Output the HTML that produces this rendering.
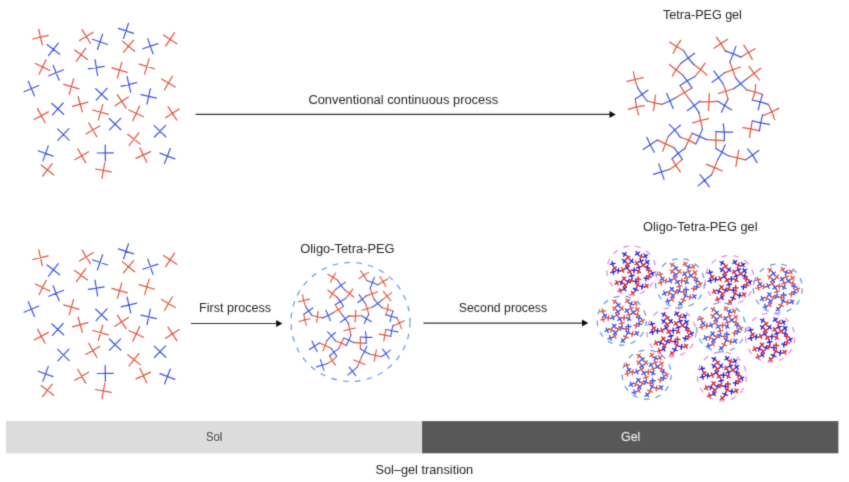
<!DOCTYPE html>
<html lang="en"><head><meta charset="utf-8"><title>Sol-gel transition</title>
<style>
html,body{margin:0;padding:0;background:#fff}
svg{display:block}
text{font-family:"Liberation Sans",sans-serif;font-size:13.7px;fill:#262626}
.w{fill:#ececec}
.s{font-size:13.2px}
</style></head><body>
<svg width="849" height="482" viewBox="0 0 849 482">
<rect width="849" height="482" fill="#fff"/>
<defs>
<g id="sol" fill="none" stroke-width="1.2" stroke-linecap="round">
<path stroke="#e0533d" d="M42.3 44.6L38.7 29M32.7 38.6L48.3 35M90.5 42.8L82.1 29.2M79.5 40.2L93.1 31.8M76.4 60.8L85.8 47.8M74.6 49.6L87.6 59M39.1 73.8L46.1 59.4M35.4 63.1L49.8 70.1M69.2 93.9L73.6 78.5M63.7 84L79.1 88.4M82.3 111.5L78.1 96.1M72.5 105.9L87.9 101.7M123.4 51.9L133.6 39.7M122.4 40.7L134.6 50.9M165.7 45.7L174.5 32.3M163.4 34.6L176.8 43.4M117.4 77.4L121.8 62M111.9 67.5L127.3 71.9M144.6 73.7L149.2 58.3M139.2 63.7L154.6 68.3M164.4 89.6L172.4 75.8M161.5 78.7L175.3 86.7M126.1 107.7L117.3 94.3M115 105.4L128.4 96.6M98.4 119.5L102.8 104.1M92.9 109.6L108.3 114M132.8 120.3L139.6 105.7M128.9 109.6L143.5 116.4M96.8 136.4L88.8 122.6M85.9 133.5L99.7 125.5M129.1 145.1L138.9 132.5M127.7 133.9L140.3 143.7M45.1 122.4L37.5 108.2M34.2 119.1L48.4 111.5M85.7 162.2L77.7 148.4M74.8 159.3L88.6 151.3M42.5 175.8L52.3 163.2M41.1 164.6L53.7 174.4M102 177.9L104.8 162.1M95.5 168.6L111.3 171.4M176.8 119.7L168 106.3M165.7 117.4L179.1 108.6M146.7 161.9L139.9 147.3M136 158L150.6 151.2"/>
<path stroke="#3d55e0" d="M48.5 55.3L58.3 42.7M47.1 44.1L59.7 53.9M97.4 49.1L102.6 33.9M92.4 38.9L107.6 44.1M59.2 79.8L53.2 65M48.8 75.4L63.6 69.4M97.6 75.1L95 59.3M88.4 68.5L104.2 65.9M34.5 95.6L28.3 80.8M24 91.3L38.8 85.1M96.1 99.7L107.1 87.9M95.7 88.3L107.5 99.3M52.4 114.4L63.2 102.6M51.9 103.1L63.7 113.9M123.5 38.1L128.5 22.9M118.4 28L133.6 33M153 53.4L147.8 38.2M142.8 48.4L158 43.2M130.7 91.9L127.1 76.3M121.1 85.9L136.7 82.3M147 103.8L150.4 88.2M140.9 94.3L156.5 97.7M109.5 129.5L120.7 117.9M109.3 118.1L120.9 129.3M57.8 139.9L69 128.3M57.6 128.5L69.2 139.7M42.9 160.5L48.3 145.5M38.1 150.3L53.1 155.7M105.4 160.5L105.2 144.5M97.3 152.6L113.3 152.4M154.4 136.6L165.6 125M154.2 125.2L165.8 136.4M164.5 163.1L170.3 148.1M159.9 152.7L174.9 158.5"/>
</g>
<g id="netA" fill="none" stroke-linecap="round">
<path stroke="#e0533d" d="M676.6 46.4L669.5 42.1M676.6 46.4L683.5 50.5M676.6 46.4L680.7 40.3M676.6 46.4L673.2 53.3M676 69.8L669.5 64.5M676 69.8L682.6 74.8M676 69.8L680.7 63.6M676 69.8L672.3 76.3M700.7 69.6L693.8 64.5M700.7 69.6L706.8 74.8M700.7 69.6L705 63.2M700.7 69.6L694.7 76.7M684.4 92.6L680.1 85.5M684.4 92.6L691.9 87.9M684.4 92.6L676 97.6M684.4 92.6L690 100M654.5 102.8L655.5 95M654.5 102.8L653.6 110.7M654.5 102.8L647.1 101M654.5 102.8L662 104.3M634.9 79.5L633.4 71.5M634.9 79.5L637.7 87.9M634.9 79.5L627.1 81.3M634.9 79.5L643.3 77.6M636.4 106.9L635.3 99.1M636.4 106.9L638.7 115M636.4 106.9L628.4 109.4M636.4 106.9L644.3 105.6M720.9 43.4L716.4 37.1M720.9 43.4L725.2 50.9M720.9 43.4L714 48.3M720.9 43.4L727.6 39.3M748.5 52.4L741.1 57.1M748.5 52.4L755.1 48.7M748.5 52.4L743.9 45.3M748.5 52.4L752.3 59.5M732.7 69.8L729.9 62.1M732.7 69.8L735.5 77.6M732.7 69.8L724.3 72.9M732.7 69.8L740.7 67M725.8 91.2L723.3 84.1M725.8 91.2L728 99.1M725.8 91.2L718.3 93.5M725.8 91.2L733.6 88.8M754.1 73.3L746.7 78.9M754.1 73.3L760.7 68.3M754.1 73.3L748.9 66.4M754.1 73.3L759.4 80M755.1 92L746.7 89.8M755.1 92L762.6 94.4M755.1 92L755.6 84.5M755.1 92L752.3 100M709 101.9L709.3 93.5M709 101.9L708.4 110.3M709 101.9L700 101.9M709 101.9L717.7 101.3M771.9 111.8L768.2 104.3M771.9 111.8L774.7 119.6M771.9 111.8L763.5 115.5M771.9 111.8L778.8 108.4M700.6 120.5L698.7 112.1M700.6 120.5L702.4 128.9M700.6 120.5L692.6 122.8M700.6 120.5L708.8 118.7M688.8 140.1L692.2 133.2M688.8 140.1L685.1 148.2M688.8 140.1L680.4 137.3M688.8 140.1L695.7 143.9M665.5 143.9L668.3 136.4M665.5 143.9L662.7 151.3M665.5 143.9L657.6 140.1M665.5 143.9L673.9 147.6M675.7 165.4L672 158.8M675.7 165.4L680.4 171.9M675.7 165.4L682.3 159.4M675.7 165.4L669.2 169.5M715.9 140.1L715.9 131.7M715.9 140.1L715.9 148.5M715.9 140.1L706.5 139.6M715.9 140.1L724.3 140.7M737.3 157.9L728.9 156M737.3 157.9L745.7 159.8M737.3 157.9L738.8 150M737.3 157.9L735.9 166.3M714.6 167.6L717.7 159.8M714.6 167.6L711.6 174.7M714.6 167.6L706.5 164.4M714.6 167.6L722.4 171M750.8 128.9L752.3 120.9M750.8 128.9L749.5 137.3M750.8 128.9L742.9 127.6M750.8 128.9L759.4 130.8"/>
<path stroke="#3d55e0" d="M688.2 58L683.5 50.5M688.2 58L694.7 53.3M688.2 58L680.7 63.6M688.2 58L693.8 64.5M687.2 80.8L682.6 74.8M687.2 80.8L694.7 76.7M687.2 80.8L680.1 85.5M687.2 80.8L691.9 87.9M670 101L666.7 93.5M670 101L673.2 108.4M670 101L662 104.3M670 101L676 97.6M694.3 105.6L690 100M694.3 105.6L700.3 101M694.3 105.6L687.2 110.7M694.3 105.6L699.4 113.1M642 94.4L637.7 87.9M642 94.4L647.1 101M642 94.4L648 90.1M642 94.4L635.3 99.1M733.2 53.9L725.2 50.9M733.2 53.9L741.1 57.1M733.2 53.9L735.9 46.4M733.2 53.9L729.9 62.1M718.7 77.6L714 71.1M718.7 77.6L723.3 84.1M718.7 77.6L712.1 82.3M718.7 77.6L724.3 72.9M740.7 83.8L735.5 77.6M740.7 83.8L746.7 78.9M740.7 83.8L733.6 88.8M740.7 83.8L746.7 89.8M724.6 105.6L728 99.1M724.6 105.6L721.5 112.2M724.6 105.6L717.7 101.3M724.6 105.6L731.7 109.9M760.1 101.9L762.6 94.4M760.1 101.9L752.3 100M760.1 101.9L768.2 104.3M760.1 101.9L758.3 109.9M699.5 136.4L702.4 128.9M699.5 136.4L706.6 139.6M699.5 136.4L692.2 133.2M699.5 136.4L695.7 143.9M674.8 129.9L669.2 124.3M674.8 129.9L680.4 137.3M674.8 129.9L680.4 125.2M674.8 129.9L668.3 136.4M650.2 144.8L646.8 137.3M650.2 144.8L654.3 152.3M650.2 144.8L643.1 149.5M650.2 144.8L657.6 140.1M678.2 153.2L673.9 147.6M678.2 153.2L685.1 148.2M678.2 153.2L672 158.8M678.2 153.2L682.3 159.4M661.4 171.9L658.9 163.9M661.4 171.9L664 179.4M661.4 171.9L653.3 174.3M661.4 171.9L669.2 169.5M724.3 132.1L723.3 123.9M724.3 132.1L724.3 140.7M724.3 132.1L715.9 131.7M724.3 132.1L732.7 132.1M722 152.3L715.9 148.5M722 152.3L728.9 156M722 152.3L725.2 144.8M722 152.3L717.7 159.8M752.7 155.1L745.7 159.8M752.7 155.1L758.8 150.4M752.7 155.1L747.6 148.9M752.7 155.1L757 162.6M704.7 180.3L711.6 174.7M704.7 180.3L698.1 185.9M704.7 180.3L700 174.7M704.7 180.3L709.3 186.8M760.7 122.8L762.6 114.6M760.7 122.8L759.4 130.8M760.7 122.8L752.3 120.9M760.7 122.8L769.5 124.3"/>
</g>
<g id="netB" fill="none" stroke-linecap="round">
<path stroke="#2424d8" d="M676.6 46.4L669.5 42.1M676.6 46.4L683.5 50.5M676.6 46.4L680.7 40.3M676.6 46.4L673.2 53.3M676 69.8L669.5 64.5M676 69.8L682.6 74.8M676 69.8L680.7 63.6M676 69.8L672.3 76.3M700.7 69.6L693.8 64.5M700.7 69.6L706.8 74.8M700.7 69.6L705 63.2M700.7 69.6L694.7 76.7M684.4 92.6L680.1 85.5M684.4 92.6L691.9 87.9M684.4 92.6L676 97.6M684.4 92.6L690 100M654.5 102.8L655.5 95M654.5 102.8L653.6 110.7M654.5 102.8L647.1 101M654.5 102.8L662 104.3M634.9 79.5L633.4 71.5M634.9 79.5L637.7 87.9M634.9 79.5L627.1 81.3M634.9 79.5L643.3 77.6M636.4 106.9L635.3 99.1M636.4 106.9L638.7 115M636.4 106.9L628.4 109.4M636.4 106.9L644.3 105.6M720.9 43.4L716.4 37.1M720.9 43.4L725.2 50.9M720.9 43.4L714 48.3M720.9 43.4L727.6 39.3M748.5 52.4L741.1 57.1M748.5 52.4L755.1 48.7M748.5 52.4L743.9 45.3M748.5 52.4L752.3 59.5M732.7 69.8L729.9 62.1M732.7 69.8L735.5 77.6M732.7 69.8L724.3 72.9M732.7 69.8L740.7 67M725.8 91.2L723.3 84.1M725.8 91.2L728 99.1M725.8 91.2L718.3 93.5M725.8 91.2L733.6 88.8M754.1 73.3L746.7 78.9M754.1 73.3L760.7 68.3M754.1 73.3L748.9 66.4M754.1 73.3L759.4 80M755.1 92L746.7 89.8M755.1 92L762.6 94.4M755.1 92L755.6 84.5M755.1 92L752.3 100M709 101.9L709.3 93.5M709 101.9L708.4 110.3M709 101.9L700 101.9M709 101.9L717.7 101.3M771.9 111.8L768.2 104.3M771.9 111.8L774.7 119.6M771.9 111.8L763.5 115.5M771.9 111.8L778.8 108.4M700.6 120.5L698.7 112.1M700.6 120.5L702.4 128.9M700.6 120.5L692.6 122.8M700.6 120.5L708.8 118.7M688.8 140.1L692.2 133.2M688.8 140.1L685.1 148.2M688.8 140.1L680.4 137.3M688.8 140.1L695.7 143.9M665.5 143.9L668.3 136.4M665.5 143.9L662.7 151.3M665.5 143.9L657.6 140.1M665.5 143.9L673.9 147.6M675.7 165.4L672 158.8M675.7 165.4L680.4 171.9M675.7 165.4L682.3 159.4M675.7 165.4L669.2 169.5M715.9 140.1L715.9 131.7M715.9 140.1L715.9 148.5M715.9 140.1L706.5 139.6M715.9 140.1L724.3 140.7M737.3 157.9L728.9 156M737.3 157.9L745.7 159.8M737.3 157.9L738.8 150M737.3 157.9L735.9 166.3M714.6 167.6L717.7 159.8M714.6 167.6L711.6 174.7M714.6 167.6L706.5 164.4M714.6 167.6L722.4 171M750.8 128.9L752.3 120.9M750.8 128.9L749.5 137.3M750.8 128.9L742.9 127.6M750.8 128.9L759.4 130.8"/>
<path stroke="#d42a2a" d="M688.2 58L683.5 50.5M688.2 58L694.7 53.3M688.2 58L680.7 63.6M688.2 58L693.8 64.5M687.2 80.8L682.6 74.8M687.2 80.8L694.7 76.7M687.2 80.8L680.1 85.5M687.2 80.8L691.9 87.9M670 101L666.7 93.5M670 101L673.2 108.4M670 101L662 104.3M670 101L676 97.6M694.3 105.6L690 100M694.3 105.6L700.3 101M694.3 105.6L687.2 110.7M694.3 105.6L699.4 113.1M642 94.4L637.7 87.9M642 94.4L647.1 101M642 94.4L648 90.1M642 94.4L635.3 99.1M733.2 53.9L725.2 50.9M733.2 53.9L741.1 57.1M733.2 53.9L735.9 46.4M733.2 53.9L729.9 62.1M718.7 77.6L714 71.1M718.7 77.6L723.3 84.1M718.7 77.6L712.1 82.3M718.7 77.6L724.3 72.9M740.7 83.8L735.5 77.6M740.7 83.8L746.7 78.9M740.7 83.8L733.6 88.8M740.7 83.8L746.7 89.8M724.6 105.6L728 99.1M724.6 105.6L721.5 112.2M724.6 105.6L717.7 101.3M724.6 105.6L731.7 109.9M760.1 101.9L762.6 94.4M760.1 101.9L752.3 100M760.1 101.9L768.2 104.3M760.1 101.9L758.3 109.9M699.5 136.4L702.4 128.9M699.5 136.4L706.6 139.6M699.5 136.4L692.2 133.2M699.5 136.4L695.7 143.9M674.8 129.9L669.2 124.3M674.8 129.9L680.4 137.3M674.8 129.9L680.4 125.2M674.8 129.9L668.3 136.4M650.2 144.8L646.8 137.3M650.2 144.8L654.3 152.3M650.2 144.8L643.1 149.5M650.2 144.8L657.6 140.1M678.2 153.2L673.9 147.6M678.2 153.2L685.1 148.2M678.2 153.2L672 158.8M678.2 153.2L682.3 159.4M661.4 171.9L658.9 163.9M661.4 171.9L664 179.4M661.4 171.9L653.3 174.3M661.4 171.9L669.2 169.5M724.3 132.1L723.3 123.9M724.3 132.1L724.3 140.7M724.3 132.1L715.9 131.7M724.3 132.1L732.7 132.1M722 152.3L715.9 148.5M722 152.3L728.9 156M722 152.3L725.2 144.8M722 152.3L717.7 159.8M752.7 155.1L745.7 159.8M752.7 155.1L758.8 150.4M752.7 155.1L747.6 148.9M752.7 155.1L757 162.6M704.7 180.3L711.6 174.7M704.7 180.3L698.1 185.9M704.7 180.3L700 174.7M704.7 180.3L709.3 186.8M760.7 122.8L762.6 114.6M760.7 122.8L759.4 130.8M760.7 122.8L752.3 120.9M760.7 122.8L769.5 124.3"/>
</g>
<path id="ah" d="M0 0L-6.2 -3.5L-6.2 3.5Z" fill="#111"/>
<filter id="soft" x="0" y="0" width="849" height="482" filterUnits="userSpaceOnUse"><feConvolveMatrix order="3" kernelMatrix="0.037 0.192 0.037 0.192 1 0.192 0.037 0.192 0.037" divisor="1.916" edgeMode="duplicate" preserveAlpha="false"/></filter>
</defs>
<g filter="url(#soft)">
<use href="#sol" y="0.4"/>
<use href="#sol" y="220.9"/>
<use href="#netA" stroke-width="1.2"/>
<g transform="translate(-140.8 244.85) scale(0.7)"><use href="#netA" stroke-width="1.6"/></g>
<circle cx="350.5" cy="322" r="59.5" fill="none" stroke="#5f95ea" stroke-width="1.15" stroke-dasharray="5.6 6.3"/>
<g transform="translate(632.3 273.3) scale(0.29) translate(-702.95 -111.95)"><use href="#netB" stroke-width="4.8"/></g>
<circle cx="631.4" cy="270.5" r="24.5" fill="none" stroke="#e184e1" stroke-width="1.2" stroke-dasharray="5.6 6.24"/>
<g transform="translate(680 283.8) scale(0.29) translate(-702.95 -111.95)"><use href="#netA" stroke-width="4.7"/></g>
<circle cx="680" cy="283.2" r="24.5" fill="none" stroke="#5f95ea" stroke-width="1.2" stroke-dasharray="5.6 6.24"/>
<g transform="translate(729.7 282) scale(0.29) translate(-702.95 -111.95)"><use href="#netB" stroke-width="4.8"/></g>
<circle cx="729.6" cy="280" r="24.5" fill="none" stroke="#e184e1" stroke-width="1.2" stroke-dasharray="5.6 6.24"/>
<g transform="translate(777.6 289.2) scale(0.29) translate(-702.95 -111.95)"><use href="#netA" stroke-width="4.7"/></g>
<circle cx="777.8" cy="288.5" r="24.5" fill="none" stroke="#5f95ea" stroke-width="1.2" stroke-dasharray="5.6 6.24"/>
<g transform="translate(622.4 320.7) scale(0.29) translate(-702.95 -111.95)"><use href="#netA" stroke-width="4.7"/></g>
<circle cx="621.7" cy="320.7" r="24.5" fill="none" stroke="#5f95ea" stroke-width="1.2" stroke-dasharray="5.6 6.24"/>
<g transform="translate(671.5 333.5) scale(0.29) translate(-702.95 -111.95)"><use href="#netB" stroke-width="4.8"/></g>
<circle cx="671.5" cy="332.2" r="24.5" fill="none" stroke="#e184e1" stroke-width="1.2" stroke-dasharray="5.6 6.24"/>
<g transform="translate(720.8 328.4) scale(0.29) translate(-702.95 -111.95)"><use href="#netA" stroke-width="4.7"/></g>
<circle cx="721.1" cy="327.4" r="24.5" fill="none" stroke="#5f95ea" stroke-width="1.2" stroke-dasharray="5.6 6.24"/>
<g transform="translate(770.2 339.5) scale(0.29) translate(-702.95 -111.95)"><use href="#netB" stroke-width="4.8"/></g>
<circle cx="770.2" cy="337.6" r="24.5" fill="none" stroke="#e184e1" stroke-width="1.2" stroke-dasharray="5.6 6.24"/>
<g transform="translate(646.6 374.9) scale(0.29) translate(-702.95 -111.95)"><use href="#netA" stroke-width="4.7"/></g>
<circle cx="646.7" cy="374.7" r="24.5" fill="none" stroke="#5f95ea" stroke-width="1.2" stroke-dasharray="5.6 6.24"/>
<g transform="translate(721.8 378.2) scale(0.29) translate(-702.95 -111.95)"><use href="#netB" stroke-width="4.8"/></g>
<circle cx="721.9" cy="376.5" r="24.5" fill="none" stroke="#e184e1" stroke-width="1.2" stroke-dasharray="5.6 6.24"/>
<line x1="195.6" y1="114.4" x2="611.7" y2="114.4" stroke="#303030" stroke-width="1.2"/><use href="#ah" x="615.7" y="114.4"/>
<line x1="191" y1="323.5" x2="278.4" y2="323.5" stroke="#303030" stroke-width="1.2"/><use href="#ah" x="282.4" y="323.5"/>
<line x1="423.5" y1="323.1" x2="584.2" y2="323.1" stroke="#303030" stroke-width="1.2"/><use href="#ah" x="588.2" y="323.1"/>
<text x="308.4" y="104.4" textLength="189.7" lengthAdjust="spacingAndGlyphs">Conventional continuous process</text>
<text x="663.1" y="19.1" textLength="78.8" lengthAdjust="spacingAndGlyphs">Tetra-PEG gel</text>
<text x="300.2" y="253.2" textLength="94.4" lengthAdjust="spacingAndGlyphs">Oligo-Tetra-PEG</text>
<text x="199" y="311.9" textLength="72" lengthAdjust="spacingAndGlyphs">First process</text>
<text x="458.8" y="311.9" textLength="88.4" lengthAdjust="spacingAndGlyphs">Second process</text>
<text x="643" y="231.3" textLength="114.5" lengthAdjust="spacingAndGlyphs">Oligo-Tetra-PEG gel</text>
<rect x="6" y="421.1" width="416" height="32.2" fill="#dcdcdc"/>
<rect x="422" y="421.1" width="416.4" height="32.2" fill="#595959"/>
<text class="s" x="205.9" y="441" textLength="16.4" lengthAdjust="spacingAndGlyphs">Sol</text>
<text class="s w" x="621" y="441" textLength="19.3" lengthAdjust="spacingAndGlyphs">Gel</text>
<text class="s" x="375.4" y="473.5" textLength="97.8" lengthAdjust="spacingAndGlyphs">Sol–gel transition</text>
</g>
</svg></body></html>
